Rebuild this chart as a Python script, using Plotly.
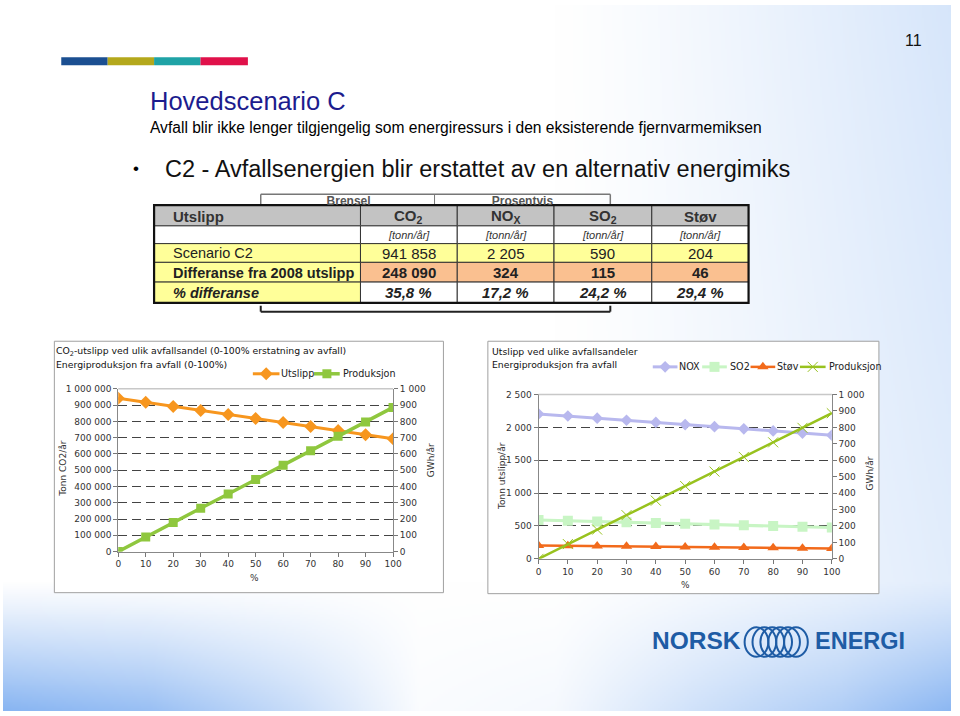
import zlib, struct, base64
import numpy as np
import plotly.graph_objects as go

W, H = 960, 716

# ---------------- DATA ----------------
pct = [0, 10, 20, 30, 40, 50, 60, 70, 80, 90, 100]
co2_utslipp = [941858, 917049, 892240, 867431, 842622, 817813, 793004, 768195, 743386, 718577, 693768]
produksjon_gwh = [0, 90, 178, 266, 354, 443, 531, 620, 709, 797, 886]
nox = [2205, 2173, 2140, 2108, 2075, 2043, 2011, 1978, 1946, 1913, 1881]
so2 = [590, 579, 567, 556, 544, 533, 521, 510, 498, 487, 475]
stov = [204, 199, 195, 190, 186, 181, 176, 172, 167, 163, 158]

table_header = ["Utslipp", "CO<sub>2</sub>", "NO<sub>X</sub>", "SO<sub>2</sub>", "Støv"]
table_units = ["", "[tonn/år]", "[tonn/år]", "[tonn/år]", "[tonn/år]"]
row_labels = ["Scenario C2", "Differanse fra 2008 utslipp", "% differanse"]
scenario_c2 = ["941 858", "2 205", "590", "204"]
diff_2008 = ["248 090", "324", "115", "46"]
pct_diff = ["35,8 %", "17,2 %", "24,2 %", "29,4 %"]

title_main = "Hovedscenario C"
title_sub = "Avfall blir ikke lenger tilgjengelig som energiressurs i den eksisterende fjernvarmemiksen"
bullet_text = "C2 - Avfallsenergien blir erstattet av en alternativ energimiks"

# colours
C_UTSLIPP = "#F7961E"
C_PROD = "#8FC73E"
C_NOX = "#B8B8EE"
C_SO2 = "#C8F5C4"
C_STOV = "#F26A1B"
C_PROD2 = "#98C21E"

CHART_FONT = "DejaVu Sans"
SLIDE_FONT = "Liberation Sans, Arial"
TABLE_FONT = "Liberation Sans Narrow, Arial Narrow, Liberation Sans"


# ---------------- background gradient image ----------------
def make_bg():
    w, h = 480, 358
    X = (np.arange(w) + 0.5) / w * W
    Y = (np.arange(h) + 0.5) / h * H
    XX, YY = np.meshgrid(X, Y)
    t_right = np.clip((XX - 560) / 400, 0, 1) ** 1.2 * 0.34 * (1 - 0.35 * YY / H)
    hx = np.interp(XX, [0, 150, 300, 420, 560, 700, 850, 960],
                   [1.0, 0.85, 0.45, 0.04, 0.08, 0.35, 0.6, 0.95])
    v = np.clip((YY - 585) / 131, 0, 1) ** 1.1
    t_bot = v * hx
    t = 1 - (1 - t_right) * (1 - t_bot)
    blue = np.array([136, 181, 242], dtype=float)
    img = 255 * (1 - t[..., None]) + blue * t[..., None]
    arr = np.clip(img, 0, 255).astype(np.uint8)
    raw = b"".join(b"\x00" + arr[i].tobytes() for i in range(h))

    def chunk(tag, data):
        c = struct.pack(">I", len(data)) + tag + data
        return c + struct.pack(">I", zlib.crc32(tag + data) & 0xFFFFFFFF)

    png = (b"\x89PNG\r\n\x1a\n"
           + chunk(b"IHDR", struct.pack(">IIBBBBB", w, h, 8, 2, 0, 0, 0))
           + chunk(b"IDAT", zlib.compress(raw, 9))
           + chunk(b"IEND", b""))
    return "data:image/png;base64," + base64.b64encode(png).decode()


fig = go.Figure()


def px(x):
    return x / W


def py(y):
    return 1 - y / H


def ann(text, x, y, size, color="#000", xanchor="left", yanchor="middle",
        family=SLIDE_FONT, angle=0):
    fig.add_annotation(x=px(x), y=py(y), xref="paper", yref="paper", text=text,
                       showarrow=False, xanchor=xanchor, yanchor=yanchor,
                       textangle=angle, borderpad=0,
                       font=dict(size=size, color=color, family=family))


def rect(x0, y0, x1, y1, fill, lw=0, lc="rgba(0,0,0,0)", layer="below"):
    fig.add_shape(type="rect", xref="paper", yref="paper",
                  x0=px(x0), x1=px(x1), y0=py(y1), y1=py(y0),
                  fillcolor=fill, line=dict(width=lw, color=lc), layer=layer)


def line(x0, y0, x1, y1, color, width=1, dash="solid", layer="below"):
    fig.add_shape(type="line", xref="paper", yref="paper",
                  x0=px(x0), x1=px(x1), y0=py(y0), y1=py(y1),
                  line=dict(color=color, width=width, dash=dash), layer=layer)


# ---------------- header ----------------
bar_cols = ["#1B4F91", "#B4A81C", "#1FA3A6", "#E0114A"]
bx = [59, 106, 153, 200, 248]
for i, c in enumerate(bar_cols):
    rect(bx[i], 53, bx[i + 1], 61, c)

ann(title_main, 148, 97, 25.5, "#1C1C8E")
ann(title_sub, 148, 124, 15.6, "#000")
ann("•", 131, 166, 17, "#000")
ann(bullet_text, 163, 166, 23.5, "#111")
ann("11", 922, 36, 16, "#111", xanchor="center")

# ---------------- background table (partly hidden) ----------------
line(261, 192, 615, 192, "#777", 1.5)
line(261, 192, 261, 203, "#777", 1.5)
line(437, 192, 437, 203, "#777", 1)
line(615, 192, 615, 203, "#777", 1.5)
line(261, 311, 615, 311, "#222", 2)
line(261, 305, 261, 311, "#222", 2)
line(615, 305, 615, 311, "#222", 2)

# ---------------- table ----------------
col_x = [153, 362, 460, 558, 657, 755]
row_y = [203, 224, 242, 261, 281, 302]
GREY = "#C3C3C3"
YEL = "#FFFF99"
ORA = "#FAC090"
WHITE = "#FFFFFF"
row_fills = [
    [GREY] * 5,
    [WHITE] * 5,
    [YEL] * 5,
    [YEL] + [ORA] * 4,
    [YEL] + [WHITE] * 4,
]
for r in range(5):
    for c in range(5):
        rect(col_x[c], row_y[r], col_x[c + 1], row_y[r + 1], row_fills[r][c], 1, "#333")
rect(col_x[0], row_y[0], col_x[-1], row_y[-1], "rgba(0,0,0,0)", 2.2, "#111")


def cell_center(r, c):
    return (col_x[c] + col_x[c + 1]) / 2, (row_y[r] + row_y[r + 1]) / 2 + 0.5


# header
ann("<b>" + table_header[0] + "</b>", 171, cell_center(0, 0)[1], 15, "#333", family=TABLE_FONT)
for c in range(1, 5):
    cx, cy = cell_center(0, c)
    ann("<b>" + table_header[c] + "</b>", cx, cy, 15, "#333", xanchor="center", family=TABLE_FONT)
    cx, cy = cell_center(1, c)
    ann("<i>" + table_units[c] + "</i>", cx, cy, 11, "#333", xanchor="center", family=TABLE_FONT)

row_vals = [scenario_c2, diff_2008, pct_diff]
for i, lab in enumerate(row_labels):
    r = i + 2
    if i == 0:
        txt = lab
    elif i == 1:
        txt = "<b>" + lab + "</b>"
    else:
        txt = "<b><i>" + lab + "</i></b>"
    ann(txt, 171, cell_center(r, 0)[1], 14.5, "#222", family=TABLE_FONT)
    for c in range(1, 5):
        v = row_vals[i][c - 1]
        if i == 1:
            v = "<b>" + v + "</b>"
        elif i == 2:
            v = "<b><i>" + v + "</i></b>"
        cx, cy = cell_center(r, c)
        ann(v, cx, cy, 15, "#222", xanchor="center", family=TABLE_FONT)

# ---------------- chart boxes ----------------
rect(52, 341, 446, 596, WHITE, 1, "#A0A0A0")
rect(491, 341, 887, 597, WHITE, 1, "#A0A0A0")

# ---------------- left chart ----------------
fig.add_trace(go.Scatter(x=pct, y=co2_utslipp, name="Utslipp", xaxis="x", yaxis="y",
                         mode="lines+markers", line=dict(color=C_UTSLIPP, width=3),
                         marker=dict(symbol="diamond", size=10, color=C_UTSLIPP),
                         showlegend=False))
fig.add_trace(go.Scatter(x=pct, y=produksjon_gwh, name="Produksjon", xaxis="x", yaxis="y2",
                         mode="lines+markers", line=dict(color=C_PROD, width=3.5),
                         marker=dict(symbol="square", size=9, color=C_PROD),
                         showlegend=False))

# ---------------- right chart ----------------
fig.add_trace(go.Scatter(x=pct, y=nox, name="NOX", xaxis="x2", yaxis="y3",
                         mode="lines+markers", line=dict(color=C_NOX, width=3),
                         marker=dict(symbol="diamond", size=9, color=C_NOX),
                         showlegend=False))
fig.add_trace(go.Scatter(x=pct, y=so2, name="SO2", xaxis="x2", yaxis="y3",
                         mode="lines+markers", line=dict(color=C_SO2, width=3),
                         marker=dict(symbol="square", size=10, color=C_SO2),
                         showlegend=False))
fig.add_trace(go.Scatter(x=pct, y=stov, name="Støv", xaxis="x2", yaxis="y3",
                         mode="lines+markers", line=dict(color=C_STOV, width=2.5),
                         marker=dict(symbol="triangle-up", size=10, color=C_STOV),
                         showlegend=False))
fig.add_trace(go.Scatter(x=pct, y=produksjon_gwh, name="Produksjon", xaxis="x2", yaxis="y4",
                         mode="lines+markers", line=dict(color=C_PROD2, width=2.5),
                         marker=dict(symbol="x-thin-open", size=10,
                                     line=dict(color="#B4C45A", width=1)),
                         showlegend=False))


# ---------------- legends (drawn on a page-pixel helper axis) ----------------
def legend_item(x0, x1, y, color, lw, symbol, msize, mline=None, label="", tx=0):
    fig.add_trace(go.Scatter(x=[x0, x1], y=[y, y], xaxis="x3", yaxis="y5", mode="lines",
                             line=dict(color=color, width=lw), showlegend=False, hoverinfo="skip"))
    mk = dict(symbol=symbol, size=msize, color=color)
    if mline is not None:
        mk["line"] = mline
    fig.add_trace(go.Scatter(x=[(x0 + x1) / 2], y=[y], xaxis="x3", yaxis="y5", mode="markers",
                             marker=mk, showlegend=False, hoverinfo="skip"))
    ann(label, tx, y, 9.6, "#222", family=CHART_FONT)


legend_item(253, 280, 374, C_UTSLIPP, 3, "diamond", 10, label="Utslipp", tx=281)
legend_item(315, 341, 374, C_PROD, 3.5, "square", 9, label="Produksjon", tx=343)
legend_item(658, 683, 367, C_NOX, 3, "diamond", 9, label="NOX", tx=684)
legend_item(708, 733, 367, C_SO2, 3, "square", 10, label="SO2", tx=735)
legend_item(757, 782, 367, C_STOV, 2.5, "triangle-up", 10, label="Støv", tx=783)
legend_item(807, 833, 367, C_PROD2, 2.5, "x-thin-open", 10,
            mline=dict(color="#B4C45A", width=1), label="Produksjon", tx=835)

# ---------------- chart titles / axis titles ----------------
ann("CO<sub>2</sub>-utslipp ved ulik avfallsandel (0-100% erstatning av avfall)", 53, 351, 9.3, "#111", family=CHART_FONT)
ann("Energiproduksjon fra avfall (0-100%)", 53, 365, 9.3, "#111", family=CHART_FONT)
ann("Utslipp ved ulike avfallsandeler", 494, 351, 9.3, "#111", family=CHART_FONT)
ann("Energiproduksjon fra avfall", 494, 365, 9.3, "#111", family=CHART_FONT)

ann("Tonn CO2/år", 61, 470, 9, "#333", xanchor="center", family=CHART_FONT, angle=-90)
ann("GWh/år", 433, 462, 9, "#333", xanchor="center", family=CHART_FONT, angle=-90)
ann("%", 255, 581, 9, "#333", xanchor="center", family=CHART_FONT)
ann("Tonn utslipp/år", 506, 478, 9, "#333", xanchor="center", family=CHART_FONT, angle=-90)
ann("GWh/år", 878, 475, 9, "#333", xanchor="center", family=CHART_FONT, angle=-90)
ann("%", 691, 588, 9, "#333", xanchor="center", family=CHART_FONT)

# top borders of plot areas (solid light grey)
line(116.7, 389.3, 395, 389.3, "#C8C8C8", 1.5, layer="above")
line(542.3, 395, 839.3, 395, "#C8C8C8", 1.5, layer="above")

# ---------------- logo ----------------
LOGO = "#1E5CA5"
ann("<b>NORSK</b>", 656, 645, 24.5, LOGO, family="Liberation Sans")
ann("<b>ENERGI</b>", 821, 645, 23.5, LOGO, family="Liberation Sans")
for i, cxx in enumerate([763, 771, 779, 787, 795, 803]):
    fig.add_shape(type="circle", xref="paper", yref="paper",
                  x0=px(cxx - 12), x1=px(cxx + 12), y0=py(661), y1=py(631),
                  line=dict(color=LOGO, width=2), fillcolor="rgba(0,0,0,0)", layer="above")

# ---------------- axes ----------------
tickfont = dict(family=CHART_FONT, size=9, color="#333")
common_y = dict(ticks="outside", ticklen=4, tickcolor="#777", showline=True, linecolor="#888",
                linewidth=1, tickfont=tickfont, tickformat=",d", zeroline=False, fixedrange=True)
common_x = dict(range=[0, 100], tickvals=pct, ticks="outside", ticklen=4, tickcolor="#777",
                showline=True, linecolor="#888", linewidth=1, tickfont=tickfont,
                showgrid=False, zeroline=False, fixedrange=True)

fig.update_layout(
    width=W, height=H,
    margin=dict(l=0, r=0, t=0, b=0),
    paper_bgcolor="white", plot_bgcolor="rgba(0,0,0,0)",
    separators=", ",
    showlegend=False,
    images=[dict(source=make_bg(), xref="paper", yref="paper", x=0, y=1,
                 sizex=1, sizey=1, sizing="stretch", layer="below", xanchor="left", yanchor="top")],
    xaxis=dict(domain=[px(116.7), px(395)], anchor="y", **common_x),
    yaxis=dict(domain=[py(554.3), py(389.3)], anchor="x", range=[0, 1000000], dtick=100000,
               showgrid=True, gridcolor="#444", griddash="9px,5px", gridwidth=1, **common_y),
    yaxis2=dict(overlaying="y", side="right", anchor="x", range=[0, 1000], dtick=100,
                showgrid=False, **common_y),
    xaxis2=dict(domain=[px(542.3), px(839.3)], anchor="y3", **common_x),
    yaxis3=dict(domain=[py(561.7), py(395)], anchor="x2", range=[0, 2500], dtick=500,
                showgrid=True, gridcolor="#444", griddash="9px,5px", gridwidth=1, **common_y),
    yaxis4=dict(overlaying="y3", side="right", anchor="x2", range=[0, 1000], dtick=100,
                showgrid=False, **common_y),
    xaxis3=dict(domain=[0, 1], range=[0, W], visible=False, fixedrange=True),
    yaxis5=dict(domain=[0, 1], range=[H, 0], anchor="x3", visible=False, fixedrange=True),
    xaxis4=dict(domain=[px(261), px(615)], range=[261, 615], visible=False, fixedrange=True),
    yaxis6=dict(domain=[py(203), py(190)], range=[203, 190], anchor="x4", visible=False, fixedrange=True),
)

# partially hidden header text of background table (clipped at the table's top edge)
fig.add_trace(go.Scatter(x=[350, 526], y=[200, 200], xaxis="x4", yaxis="y6", mode="text",
                         text=["<b>Brensel</b>", "<b>Prosentvis</b>"],
                         textfont=dict(family=TABLE_FONT, size=12, color="#555"),
                         cliponaxis=True, showlegend=False, hoverinfo="skip"))

fig.write_html("out.html")
